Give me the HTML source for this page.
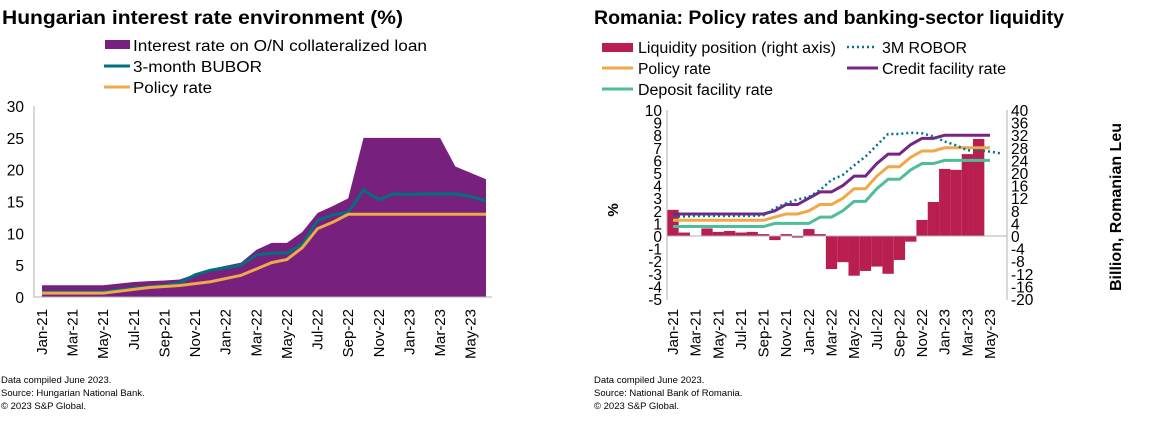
<!DOCTYPE html>
<html><head><meta charset="utf-8"><style>
body{margin:0;background:#fff;width:1153px;height:429px;overflow:hidden;font-family:"Liberation Sans",Arial,sans-serif}
svg text{font-family:"Liberation Sans",Arial,sans-serif}
</style></head><body>
<svg id="s" width="1153" height="429">
<text x="2" y="24" font-size="19" font-weight="bold" textLength="401" lengthAdjust="spacingAndGlyphs">Hungarian interest rate environment (%)</text>
<rect x="105" y="40" width="25" height="9" fill="#77207D"/>
<text x="133" y="51" font-size="15.5" textLength="294" lengthAdjust="spacingAndGlyphs">Interest rate on O/N collateralized loan</text>
<line x1="104" x2="130" y1="66" y2="66" stroke="#00707F" stroke-width="3"/>
<text x="133" y="72" font-size="15.5" textLength="129" lengthAdjust="spacingAndGlyphs">3-month BUBOR</text>
<line x1="104" x2="130" y1="87" y2="87" stroke="#F0A848" stroke-width="3"/>
<text x="133" y="93" font-size="15.5" textLength="79" lengthAdjust="spacingAndGlyphs">Policy rate</text>

<text x="594" y="24" font-size="19" font-weight="bold" textLength="470" lengthAdjust="spacingAndGlyphs">Romania: Policy rates and banking-sector liquidity</text>
<rect x="602" y="43" width="31" height="9" fill="#B81E4E"/>
<text x="638" y="53" font-size="15.5" textLength="198" lengthAdjust="spacingAndGlyphs">Liquidity position (right axis)</text>
<line x1="847" x2="877" y1="47" y2="47" stroke="#00738A" stroke-width="2.5" stroke-dasharray="2,3"/>
<text x="882" y="53" font-size="15.5" textLength="85" lengthAdjust="spacingAndGlyphs">3M ROBOR</text>
<line x1="602" x2="633" y1="68" y2="68" stroke="#F0A848" stroke-width="3"/>
<text x="638" y="74" font-size="15.5" textLength="73" lengthAdjust="spacingAndGlyphs">Policy rate</text>
<line x1="847" x2="878" y1="68" y2="68" stroke="#772583" stroke-width="3"/>
<text x="882" y="74" font-size="15.5" textLength="124" lengthAdjust="spacingAndGlyphs">Credit facility rate</text>
<line x1="602" x2="633" y1="89" y2="89" stroke="#4DBD9A" stroke-width="3"/>
<text x="638" y="95" font-size="15.5" textLength="135" lengthAdjust="spacingAndGlyphs">Deposit facility rate</text>

<g font-size="9.5">
<text x="1" y="383">Data compiled June 2023.</text><text x="1" y="396">Source: Hungarian National Bank.</text><text x="1" y="409">© 2023 S&amp;P Global.</text></g>
<g font-size="9.5">
<text x="594" y="383">Data compiled June 2023.</text><text x="594" y="396">Source: National Bank of Romania.</text><text x="594" y="409">© 2023 S&amp;P Global.</text></g>
<g id="L"></g><g id="R"></g>
</svg>
<script>
const huMonths=["Jan-21","Feb-21","Mar-21","Apr-21","May-21","Jun-21","Jul-21","Aug-21","Sep-21","Oct-21","Nov-21","Dec-21","Jan-22","Feb-22","Mar-22","Apr-22","May-22","Jun-22","Jul-22","Aug-22","Sep-22","Oct-22","Nov-22","Dec-22","Jan-23","Feb-23","Mar-23","Apr-23","May-23","Jun-23"];
const huCollateral=[1.85,1.85,1.85,1.85,1.85,2.1,2.35,2.5,2.6,2.75,3.6,4.4,4.9,5.4,7.4,8.5,8.5,10.2,13.2,14.3,15.5,25,25,25,25,25,25,20.5,19.5,18.5];
const huBubor=[0.75,0.75,0.75,0.75,0.8,1.1,1.4,1.6,1.8,2.2,3.5,4.2,4.6,5.0,6.6,6.9,6.9,8.3,12.0,12.9,13.3,16.8,15.3,16.2,16.1,16.2,16.2,16.2,15.8,15.1];
const huPolicy=[0.6,0.6,0.6,0.6,0.6,0.9,1.2,1.5,1.65,1.8,2.1,2.4,2.9,3.4,4.4,5.4,5.9,7.75,10.75,11.75,13,13,13,13,13,13,13,13,13,13];
const huTicks=[0,5,10,15,20,25,30];

const roMonths=["Jan-21","Feb-21","Mar-21","Apr-21","May-21","Jun-21","Jul-21","Aug-21","Sep-21","Oct-21","Nov-21","Dec-21","Jan-22","Feb-22","Mar-22","Apr-22","May-22","Jun-22","Jul-22","Aug-22","Sep-22","Oct-22","Nov-22","Dec-22","Jan-23","Feb-23","Mar-23","Apr-23","May-23","Jun-23"];
const roLiquidity=[8.3,1.1,0,2.4,1.3,1.6,1.1,1.3,0.6,-1.3,0.6,-0.5,2.2,0.6,-10.5,-8.3,-12.6,-11.1,-9.7,-12,-7.6,-1.8,5.1,10.8,21.3,21,26,30.8,null];
const roCredit=[1.75,1.75,1.75,1.75,1.75,1.75,1.75,1.75,1.75,2.0,2.5,2.5,3.0,3.5,3.5,4.0,4.75,4.75,5.75,6.5,6.5,7.25,7.75,7.75,8,8,8,8,8];
const roPolicy=[1.25,1.25,1.25,1.25,1.25,1.25,1.25,1.25,1.25,1.5,1.75,1.75,2.0,2.5,2.5,3.0,3.75,3.75,4.75,5.5,5.5,6.25,6.75,6.75,7,7,7,7,7];
const roDeposit=[0.75,0.75,0.75,0.75,0.75,0.75,0.75,0.75,0.75,1.0,1.0,1.0,1.0,1.5,1.5,2.0,2.75,2.75,3.75,4.5,4.5,5.25,5.75,5.75,6,6,6,6,6];
const roRobor=[1.55,1.55,1.6,1.6,1.6,1.6,1.6,1.6,1.65,2.2,2.6,2.9,3.1,3.65,4.45,4.85,5.6,6.3,7.2,8.1,8.1,8.2,8.15,7.9,7.5,7.2,6.8,6.8,6.7,6.55];
const roLeftTicks=[-5,-4,-3,-2,-1,0,1,2,3,4,5,6,7,8,9,10];
const roRightTicks=[-20,-16,-12,-8,-4,0,4,8,12,16,20,24,28,32,36,40];

const NS="http://www.w3.org/2000/svg";
function mk(p,t,a,txt){const e=document.createElementNS(NS,t);for(const k in a)e.setAttribute(k,a[k]);if(txt!=null)e.textContent=txt;p.appendChild(e);return e;}

// Left chart
const L=document.getElementById('L');
const hx=i=>42+i*(486-42)/29, hy=v=>297-v*(297-106)/30;
let d="M"+hx(0)+","+hy(0);huCollateral.forEach((v,i)=>d+=" L"+hx(i)+","+hy(v));d+=" L"+hx(huCollateral.length-1)+","+hy(0)+"Z";
let a=mk(L,'path',{d:d,fill:'#77207D'});


let p=mk(L,'polyline',{points:huBubor.map((v,i)=>hx(i)+","+hy(v)).join(' '),fill:'none',stroke:'#00707F','stroke-width':3});


p=mk(L,'polyline',{points:huPolicy.map((v,i)=>hx(i)+","+hy(v)).join(' '),fill:'none',stroke:'#F0A848','stroke-width':3});


let ax=mk(L,'path',{d:"M34,106 V297 H492",fill:'none',stroke:'#b0b0b0','stroke-width':1});


huTicks.forEach(v=>{const t=mk(L,'text',{x:24,y:hy(v)+6,'font-size':15.5,'text-anchor':'end'},v);

});
huMonths.forEach((m,i)=>{if(i%2)return;const x=hx(i)+5;const t=mk(L,'text',{x:0,y:0,'font-size':15,'text-anchor':'end',transform:`translate(${x},309) rotate(-90)`},m);

});

// Right chart
const R=document.getElementById('R');
const rx=i=>673+i*(990-673)/28, ry=v=>236-v*(236-110)/10, ryR=v=>ry(v/4);
roLiquidity.forEach((v,i)=>{if(v==null||v===0)return;const y0=ryR(0),y1=ryR(v);const b=mk(R,'rect',{x:rx(i)-5.65,y:Math.min(y0,y1),width:11.3,height:Math.abs(y1-y0),fill:'#B81E4E'});

});
ax=mk(R,'path',{d:"M667,110 V300 M1007,110 V300 M667,236 H1007",fill:'none',stroke:'#b0b0b0','stroke-width':1});


[[roDeposit,'#4DBD9A','deposit-line'],[roPolicy,'#F0A848','ro-policy-line'],[roCredit,'#772583','credit-line']].forEach(([arr,c,n])=>{
const l=mk(R,'polyline',{points:arr.map((v,i)=>rx(i)+","+ry(v)).join(' '),fill:'none',stroke:c,'stroke-width':3});

});
p=mk(R,'polyline',{points:roRobor.map((v,i)=>rx(i)+","+ry(v)).join(' '),fill:'none',stroke:'#00738A','stroke-width':2.5,'stroke-dasharray':'2,3'});


roLeftTicks.forEach(v=>{const t=mk(R,'text',{x:662,y:ry(v)+6,'font-size':15.5,'text-anchor':'end'},v);

});
roRightTicks.forEach(v=>{const t=mk(R,'text',{x:1011,y:ryR(v)+6,'font-size':15.5},v);

});
roMonths.forEach((m,i)=>{if(i%2||i>28)return;const x=rx(i)+5;const t=mk(R,'text',{x:0,y:0,'font-size':15,'text-anchor':'end',transform:`translate(${x},309) rotate(-90)`},m);

});
let t=mk(R,'text',{x:0,y:0,'font-size':15,'font-weight':'bold','text-anchor':'middle',transform:'translate(618,210) rotate(-90)'},'%');


t=mk(R,'text',{x:0,y:0,'font-size':16,'font-weight':'bold','text-anchor':'middle','xml:space':'preserve',transform:'translate(1121,207) rotate(-90)'},'Billion,  Romanian  Leu');


</script>
</body></html>
